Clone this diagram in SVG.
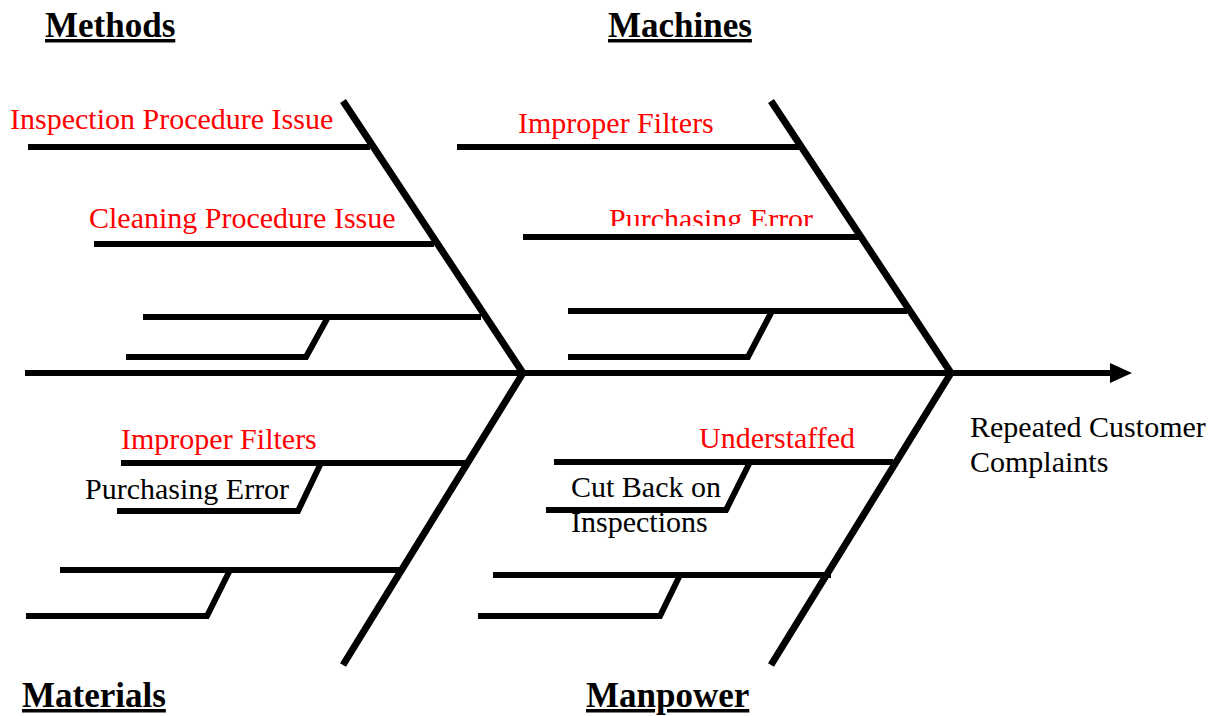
<svg xmlns="http://www.w3.org/2000/svg" width="1219" height="716" viewBox="0 0 1219 716">
<style>
.ln{stroke:#000;stroke-width:6;fill:none;stroke-linejoin:miter}
.bone{stroke:#000;stroke-width:7;fill:none}
.hd{font-family:"Liberation Serif",serif;font-weight:bold;font-size:35px;text-decoration:underline;fill:#000}
.rd{font-family:"Liberation Serif",serif;font-size:30px;fill:#f00}
.bk{font-family:"Liberation Serif",serif;font-size:30px;fill:#000}
</style>
<defs>
<clipPath id="clipPE"><rect x="580" y="190" width="260" height="36"/></clipPath>
</defs>
<rect width="1219" height="716" fill="#fff"/>
<g id="connectors">
<line class="ln" x1="25" y1="373" x2="1112" y2="373"/>
<polygon points="1110,363 1132,373 1110,383" fill="#000"/>
<line class="bone" x1="343" y1="101" x2="523" y2="373"/>
<line class="bone" x1="523" y1="373" x2="343" y2="665"/>
<line class="bone" x1="771" y1="101" x2="951" y2="373"/>
<line class="bone" x1="951" y1="373" x2="771" y2="665"/>
</g>
<g id="methods">
<text class="hd" x="45" y="37">Methods</text>
<line class="ln" x1="28" y1="147" x2="370" y2="147"/>
<text class="rd" x="10" y="129">Inspection Procedure Issue</text>
<line class="ln" x1="94" y1="244" x2="434" y2="244"/>
<text class="rd" x="89" y="228">Cleaning Procedure Issue</text>
<line class="ln" x1="143" y1="317" x2="481" y2="317"/>
<polyline class="ln" points="328,317 306,357 126,357"/>
</g>
<g id="machines">
<text class="hd" x="608" y="37">Machines</text>
<line class="ln" x1="457" y1="147" x2="799" y2="147"/>
<text class="rd" x="518" y="133">Improper Filters</text>
<line class="ln" x1="523" y1="237" x2="860" y2="237"/>
<text class="rd" x="609" y="229" clip-path="url(#clipPE)">Purchasing Error</text>
<line class="ln" x1="568" y1="311" x2="907" y2="311"/>
<polyline class="ln" points="772,311 748,357 568,357"/>
</g>
<g id="materials">
<text class="hd" x="22" y="707">Materials</text>
<line class="ln" x1="121" y1="463" x2="468" y2="463"/>
<text class="rd" x="121" y="449">Improper Filters</text>
<polyline class="ln" points="321,463 298,511 117,511"/>
<text class="bk" x="85" y="499">Purchasing Error</text>
<line class="ln" x1="60" y1="570" x2="402" y2="570"/>
<polyline class="ln" points="230,570 207,616 26,616"/>
</g>
<g id="manpower">
<text class="hd" x="586" y="707">Manpower</text>
<line class="ln" x1="554" y1="462" x2="893" y2="462"/>
<text class="rd" x="699" y="448">Understaffed</text>
<polyline class="ln" points="750,462 726,510 546,510"/>
<text class="bk" x="571" y="497">Cut Back on</text>
<text class="bk" x="571" y="532">Inspections</text>
<line class="ln" x1="493" y1="575" x2="831" y2="575"/>
<polyline class="ln" points="680,575 660,616 478,616"/>
</g>
<g id="effect">
<text class="bk" x="970" y="437">Repeated Customer</text>
<text class="bk" x="970" y="472">Complaints</text>
</g>
</svg>
